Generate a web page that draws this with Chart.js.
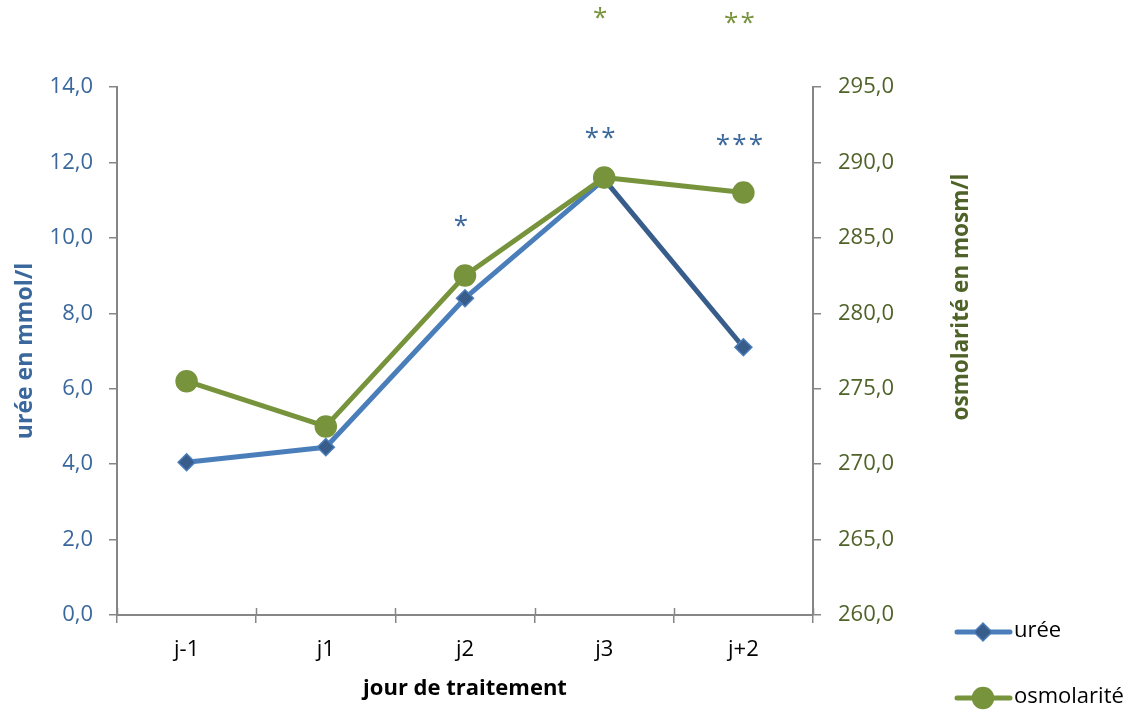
<!DOCTYPE html>
<html>
<head>
<meta charset="utf-8">
<script src="https://cdn.jsdelivr.net/npm/chart.js@4.4.1/dist/chart.umd.min.js"></script>
<style>
  html, body { margin: 0; padding: 0; background: #ffffff; }
  #wrap { position: relative; width: 1138px; height: 710px; }
</style>
</head>
<body>
<div id="wrap"><canvas id="c" width="1138" height="710"></canvas></div>
<script>
// ---- data ----
const categories = ["j-1", "j1", "j2", "j3", "j+2"];
const ureeValues = [4.05, 4.45, 8.4, 11.55, 7.1];
const osmolariteValues = [275.5, 272.5, 282.5, 289.0, 288.0];
const ureeLabel = "urée";
const osmolariteLabel = "osmolarité";
const leftTitle = "urée en mmol/l";
const rightTitle = "osmolarité en mosm/l";
const xTitle = "jour de traitement";
// significance marks: category, value on that series' axis, text
const ureeStars = [["j2", 10.42, "*"], ["j3", 12.75, "**"], ["j+2", 12.56, "***"]];
const osmoStars = [["j3", 299.8, "*"], ["j+2", 299.45, "**"]];

const BLUE = "#4a7ebb", BLUE_DARK = "#385d8a", GREEN = "#77933c";
const BLUE_TXT = "#3a679c", GREEN_TXT = "#4f6228", AXIS = "#868686";
const FONT = "'Open Sans', 'DejaVu Sans', sans-serif";
const fmt = v => v.toFixed(1).replace(".", ",");

const overlay = {
  id: "overlay",
  afterDatasetsDraw(chart) {
    const ctx = chart.ctx, x = chart.scales.x, yl = chart.scales.y, yr = chart.scales.y2;
    const area = chart.chartArea;
    ctx.save();
    // x tick marks crossing above the axis
    ctx.strokeStyle = AXIS; ctx.lineWidth = 1.5;
    for (let i = 0; i <= categories.length; i++) {
      const px = Math.round(area.left + (area.right - area.left) * i / categories.length) + 0.5;
      ctx.beginPath(); ctx.moveTo(px, area.bottom - 7); ctx.lineTo(px, area.bottom); ctx.stroke();
    }
    // stars
    ctx.font = "26px " + FONT; ctx.textAlign = "center"; ctx.textBaseline = "alphabetic";
    const drawStars = (list, scale, color) => {
      ctx.fillStyle = color;
      list.forEach(([cat, v, s]) => {
        const cx = x.getPixelForValue(categories.indexOf(cat)) - 4;
        const cy = scale.getPixelForValue(v);
        const n = s.length, gap = 16.5;
        for (let k = 0; k < n; k++) {
          ctx.fillText("*", cx + (k - (n - 1) / 2) * gap, cy + 11.5);
        }
      });
    };
    drawStars(ureeStars, yl, BLUE_TXT);
    drawStars(osmoStars, yr, GREEN);
    // right title
    ctx.save();
    ctx.translate(962, 297); ctx.rotate(-Math.PI / 2);
    ctx.font = "bold 22.5px " + FONT; ctx.fillStyle = GREEN_TXT;
    ctx.textBaseline = "middle"; ctx.textAlign = "center";
    ctx.fillText(rightTitle, 0, 0);
    ctx.restore();
    // legend
    const items = [
      { label: chart.data.datasets[0].label, color: BLUE, fill: BLUE_DARK, style: "rectRot", r: 9, y: 632 },
      { label: chart.data.datasets[1].label, color: GREEN, fill: GREEN, style: "circle", r: 10.5, y: 698 }
    ];
    items.forEach(it => {
      ctx.strokeStyle = it.color; ctx.lineWidth = 5; ctx.lineCap = "round";
      ctx.beginPath(); ctx.moveTo(957, it.y); ctx.lineTo(1010, it.y); ctx.stroke();
      ctx.fillStyle = it.fill; ctx.strokeStyle = it.color; ctx.lineWidth = 1.5;
      Chart.helpers.drawPoint(ctx, { pointStyle: it.style, radius: it.r, rotation: 0, borderWidth: 1.5 }, 983, it.y);
      ctx.fillStyle = "#000"; ctx.font = "22px " + FONT; ctx.textAlign = "left"; ctx.textBaseline = "middle";
      ctx.fillText(it.label, 1014, it.y - 1);
    });
    ctx.restore();
  }
};

new Chart(document.getElementById("c"), {
  type: "line",
  data: {
    labels: categories,
    datasets: [
      {
        label: ureeLabel, data: ureeValues, yAxisID: "y", order: 1,
        borderColor: BLUE, borderWidth: 5,
        pointStyle: "rectRot", pointRadius: 8.5, pointBackgroundColor: BLUE_DARK,
        pointBorderColor: BLUE, pointBorderWidth: 1.5,
        segment: { borderColor: c => c.p0DataIndex === 3 ? BLUE_DARK : undefined },
        tension: 0
      },
      {
        label: osmolariteLabel, data: osmolariteValues, yAxisID: "y2", order: 0,
        borderColor: GREEN, borderWidth: 5,
        pointStyle: "circle", pointRadius: 10.5, pointBackgroundColor: GREEN,
        pointBorderColor: GREEN, pointBorderWidth: 1.5,
        tension: 0
      }
    ]
  },
  plugins: [overlay],
  options: {
    responsive: false, animation: false,
    layout: { padding: { top: 87, right: 225, bottom: 8, left: 0 } },
    plugins: { legend: { display: false }, tooltip: { enabled: false } },
    elements: { line: { borderJoinStyle: "round" } },
    scales: {
      x: {
        offset: true,
        grid: { display: true, offset: true, drawOnChartArea: false, drawTicks: true, tickLength: 8, color: AXIS, lineWidth: 1.5 },
        border: { display: true, color: AXIS, width: 2 },
        ticks: { color: "#000", font: { family: FONT, size: 22 }, padding: 14 },
        title: { display: true, text: xTitle, color: "#000", font: { family: FONT, size: 22, weight: "bold" }, padding: 0 },
        afterFit: s => { s.height = 87; }
      },
      y: {
        position: "left", min: 0, max: 14,
        grid: { drawOnChartArea: false, drawTicks: true, tickLength: 8, color: AXIS, lineWidth: 1.5 },
        border: { display: true, color: AXIS, width: 2 },
        ticks: { stepSize: 2, color: BLUE_TXT, font: { family: FONT, size: 22 }, padding: 16, callback: v => fmt(v) },
        title: { display: true, text: leftTitle, color: BLUE_TXT, font: { family: FONT, size: 23, weight: "bold" }, padding: { top: 12, bottom: 0 } },
        afterFit: s => { s.width = 117; }
      },
      y2: {
        position: "right", min: 260, max: 295,
        grid: { drawOnChartArea: false, drawTicks: true, tickLength: 8, color: AXIS, lineWidth: 1.5 },
        border: { display: true, color: AXIS, width: 2 },
        ticks: { stepSize: 5, color: GREEN_TXT, font: { family: FONT, size: 22 }, padding: 17, callback: v => fmt(v) },
        afterFit: s => { s.width = 100; }
      }
    }
  }
});
</script>
</body>
</html>
